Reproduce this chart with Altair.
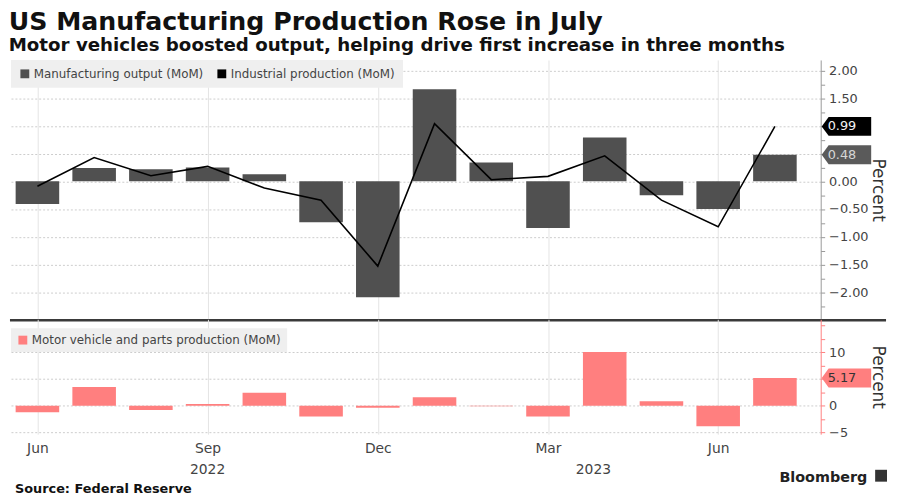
import altair as alt
import pandas as pd

# ---------------- data ----------------
months = ["Jun 2022", "Jul 2022", "Aug 2022", "Sep 2022", "Oct 2022", "Nov 2022",
          "Dec 2022", "Jan 2023", "Feb 2023", "Mar 2023", "Apr 2023", "May 2023",
          "Jun 2023", "Jul 2023"]
month_idx = [0, 1, 2, 3, 4, 5, 6, 7, 8, 9, 10, 11, 12, 13]
manufacturing = [-0.41, 0.24, 0.22, 0.25, 0.13, -0.74, -2.09, 1.66, 0.34, -0.84, 0.79, -0.25, -0.50, 0.48]
industrial = [-0.09, 0.43, 0.10, 0.27, -0.12, -0.34, -1.53, 1.04, 0.03, 0.09, 0.46, -0.34, -0.82, 0.99]
motor = [-1.2, 3.5, -0.8, 0.3, 2.4, -2.0, -0.4, 1.6, -0.1, -2.0, 10.0, 0.85, -3.85, 5.17]

tick_pos = [0, 3, 6, 9, 12]
tick_labels = ["Jun", "Sep", "Dec", "Mar", "Jun"]
year_labels = ["2022", "2023"]
year_pos = [3, 9.8]

series_names = ["Manufacturing output (MoM)", "Industrial production (MoM)"]
motor_name = "Motor vehicle and parts production (MoM)"

top_ticks = [-2.25, -2.0, -1.75, -1.5, -1.25, -1.0, -0.75, -0.5, -0.25, 0.0,
             0.25, 0.5, 0.75, 1.0, 1.25, 1.5, 1.75, 2.0]
bottom_ticks = [-5, -2.5, 0, 2.5, 5, 7.5, 10, 12.5, 15]

title_text = "US Manufacturing Production Rose in July"
subtitle_text = "Motor vehicles boosted output, helping drive first increase in three months"
source_text = "Source: Federal Reserve"
brand_text = "Bloomberg"

# ---------------- styling ----------------
FONT = "DejaVu Sans"
W = 818
H1 = 262
H2 = 116
BAR_DARK = "#505050"
PINK = "#ff7f7f"

df = pd.DataFrame({
    "idx": month_idx,
    "month": months,
    "mfg": manufacturing,
    "ind": industrial,
    "motor": motor,
    "s_mfg": series_names[0],
    "s_motor": motor_name,
})

xscale = alt.Scale(domain=[-0.379, 13.72], nice=False, zero=False)
y1scale = alt.Scale(domain=[-2.49, 2.19], nice=False, zero=False)
y2scale = alt.Scale(domain=[-5.3, 16.1], nice=False, zero=False)

month_expr = "[" + ",".join("'%s'" % t for t in tick_labels) + "][indexof([" + \
    ",".join(str(p) for p in tick_pos) + "], datum.value)]"

x_top_axis = alt.Axis(values=tick_pos, grid=True, gridColor="#e4e4e4", labels=False,
                      ticks=False, domain=False, title=None)
x_bot_axis = alt.Axis(values=tick_pos, grid=True, gridColor="#e4e4e4", labels=True,
                      labelExpr=month_expr, labelFontSize=14, labelColor="#444",
                      labelPadding=8, ticks=False, domain=False, title=None)

y_top_axis = alt.Axis(
    orient="right", values=top_ticks, tickCount=100, format=".2f", labelOverlap=False,
    labelExpr="(abs(datum.value*2 - round(datum.value*2)) < 0.001 && datum.value != 1 && datum.value != 0.5) ? datum.label : ''",
    grid=True, gridDash=[2, 2], gridColor="#cccccc",
    gridOpacity={"condition": {"test": "abs(datum.value*2 - round(datum.value*2)) < 0.001", "value": 1}, "value": 0},
    domainColor="#999999", tickColor="#999999", tickSize=4, labelPadding=4,
    labelFontSize=13, labelColor="#444",
    title="Percent", titleFontSize=17, titleFontWeight="normal", titleColor="#333",
    titleAngle=90, titleX=52, titleY=H1 / 2, titleBaseline="alphabetic", titleAlign="center",
)
y_bot_axis = alt.Axis(
    orient="right", values=bottom_ticks, tickCount=100, format="~g", labelOverlap=False,
    labelExpr="(datum.value == -5 || datum.value == 0 || datum.value == 10) ? datum.label : ''",
    grid=True, gridDash=[2, 2], gridColor="#cccccc",
    gridOpacity={"condition": {"test": "datum.value % 5 == 0 && datum.value < 15", "value": 1}, "value": 0},
    domainColor=PINK, tickColor=PINK, tickSize=4, labelPadding=4,
    labelFontSize=13, labelColor="#444",
    title="Percent", titleFontSize=17, titleFontWeight="normal", titleColor="#333",
    titleAngle=90, titleX=52, titleY=H2 / 2, titleBaseline="alphabetic", titleAlign="center",
)

TAG_PATH = "M -1 0 L -0.72 -0.38 L 1 -0.38 L 1 0.38 L -0.72 0.38 Z"

legend_common = dict(orient="none", legendX=0, direction="horizontal", title=None,
                     fillColor="#efefef", symbolType="square", symbolSize=80,
                     symbolStrokeWidth=0, labelFontSize=12, labelColor="#444",
                     labelFont=FONT, labelOffset=3, labelLimit=0)

# ---------------- top panel ----------------
base_top = alt.Chart(df)

bars_top = base_top.mark_bar(size=44).encode(
    x=alt.X("idx:Q", scale=xscale, axis=x_top_axis),
    y=alt.Y("mfg:Q", scale=y1scale, axis=y_top_axis),
    color=alt.Color("s_mfg:N",
                    scale=alt.Scale(domain=series_names, range=[BAR_DARK, "#000000"]),
                    legend=alt.Legend(legendY=0, padding=8, columnPadding=12, **legend_common)),
)

line_top = base_top.mark_line(color="#000000", strokeWidth=1.6).encode(
    x=alt.X("idx:Q", scale=xscale),
    y=alt.Y("ind:Q", scale=y1scale),
)

tags_top = pd.DataFrame({
    "value": [industrial[-1], manufacturing[-1]],
    "fill": ["#000000", "#5a5a5a"],
    "tc": ["#f2f2f2", "#d6d6d6"],
})
tag_shape_top = alt.Chart(tags_top).mark_point(shape=TAG_PATH, size=2500, filled=True,
                                                opacity=1, strokeWidth=0).encode(
    x=alt.value(844),
    y=alt.Y("value:Q", scale=y1scale),
    fill=alt.Fill("fill:N", scale=None),
)
tag_text_top = alt.Chart(tags_top).mark_text(align="left", baseline="middle", fontSize=13,
                                             font=FONT).encode(
    x=alt.value(825),
    y=alt.Y("value:Q", scale=y1scale),
    text=alt.Text("value:Q", format=".2f"),
    fill=alt.Fill("tc:N", scale=None),
)

sep = alt.Chart(pd.DataFrame({"a": [0]})).mark_rule(color="#3a3a3a", strokeWidth=2.5).encode(
    x=alt.value(-1), x2=alt.value(884), y=alt.value(H1 + 1)
)

top = alt.layer(bars_top, line_top, tag_shape_top, tag_text_top, sep).properties(
    width=W, height=H1
)

# ---------------- bottom panel ----------------
bars_bot = alt.Chart(df).mark_bar(size=44).encode(
    x=alt.X("idx:Q", scale=xscale, axis=x_bot_axis),
    y=alt.Y("motor:Q", scale=y2scale, axis=y_bot_axis),
    color=alt.Color("s_motor:N",
                    scale=alt.Scale(domain=[motor_name], range=[PINK]),
                    legend=alt.Legend(legendY=9, padding=6, **legend_common)),
)

tags_bot = pd.DataFrame({"value": [motor[-1]], "fill": [PINK], "tc": ["#333333"]})
tag_shape_bot = alt.Chart(tags_bot).mark_point(shape=TAG_PATH, size=2500, filled=True,
                                                opacity=1, strokeWidth=0).encode(
    x=alt.value(844),
    y=alt.Y("value:Q", scale=y2scale),
    fill=alt.Fill("fill:N", scale=None),
)
tag_text_bot = alt.Chart(tags_bot).mark_text(align="left", baseline="middle", fontSize=13,
                                             font=FONT).encode(
    x=alt.value(825),
    y=alt.Y("value:Q", scale=y2scale),
    text=alt.Text("value:Q", format=".2f"),
    fill=alt.Fill("tc:N", scale=None),
)

years = pd.DataFrame({"pos": year_pos, "label": year_labels})
year_text = alt.Chart(years).mark_text(baseline="alphabetic", align="center", fontSize=14,
                                       font=FONT, color="#444").encode(
    x=alt.X("pos:Q", scale=xscale),
    y=alt.value(156),
    text="label:N",
)

notes = pd.DataFrame({"src": [source_text], "brand": [brand_text]})
source = alt.Chart(notes).mark_text(align="left", baseline="alphabetic", fontSize=13,
                                    fontWeight="bold", font=FONT, color="#111").encode(
    x=alt.value(4), y=alt.value(175), text="src:N"
)
brand = alt.Chart(notes).mark_text(align="right", baseline="alphabetic", fontSize=14.5,
                                   fontWeight="bold", font=FONT, color="#222").encode(
    x=alt.value(865), y=alt.value(164), text="brand:N"
)
logo = alt.Chart(notes).mark_square(size=144, color="#333333", opacity=1).encode(
    x=alt.value(879), y=alt.value(158)
)

bottom = alt.layer(bars_bot, tag_shape_bot, tag_text_bot, year_text, source, brand, logo).properties(
    width=W, height=H2
)

chart = alt.vconcat(
    top, bottom, spacing=0, bounds="flush",
    title=alt.TitleParams(
        text=title_text, subtitle=subtitle_text, anchor="start",
        font=FONT, fontSize=25.5, fontWeight="bold", color="#111",
        subtitleFont=FONT, subtitleFontSize=18.4, subtitleFontWeight="bold",
        subtitleColor="#111", subtitlePadding=0.7, offset=5.4,
    ),
).resolve_scale(color="independent", fill="independent").properties(
    padding={"left": 0, "top": 0, "right": 2, "bottom": 0}
).configure_view(stroke=None).configure_axis(
    labelFont=FONT, titleFont=FONT
).configure_legend(labelFont=FONT)

chart.save("out.html", embed_options={"renderer": "svg", "actions": False})
